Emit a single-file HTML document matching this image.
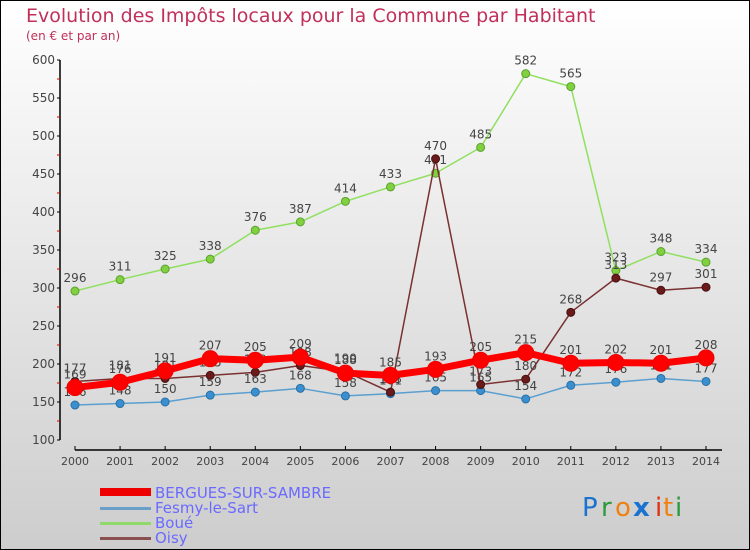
<!DOCTYPE html>
<html><head><meta charset="utf-8"><style>
body{margin:0}
svg{display:block;font-family:"DejaVu Sans","Liberation Sans",sans-serif}
</style></head><body>
<svg width="750" height="550" viewBox="0 0 750 550">
<defs><linearGradient id="bg" x1="0" y1="0" x2="0" y2="1"><stop offset="0" stop-color="#ffffff"/><stop offset="1" stop-color="#cdcdcd"/></linearGradient></defs>
<rect x="0.5" y="0.5" width="749" height="549" fill="url(#bg)" stroke="#000"/>
<text x="26" y="22" font-size="19" fill="#c0305a">Evolution des Impôts locaux pour la Commune par Habitant</text>
<text x="26" y="40" font-size="12" fill="#c0305a">(en € et par an)</text>
<g id="axes"></g><g id="series"></g>
<g>
<rect x="100" y="488" width="51" height="8" fill="#e00"/>
<text x="155" y="498" font-size="15" fill="#6a6aff">BERGUES-SUR-SAMBRE</text>
<rect x="100" y="507" width="51" height="3" fill="#6a9fc8"/>
<text x="155" y="513" font-size="15" fill="#6a6aff">Fesmy-le-Sart</text>
<rect x="100" y="522" width="51" height="3" fill="#8fd86a"/>
<text x="155" y="528" font-size="15" fill="#6a6aff">Boué</text>
<rect x="100" y="537" width="51" height="3" fill="#8a5050"/>
<text x="155" y="543" font-size="15" fill="#6a6aff">Oisy</text>
</g>
<g font-size="26" font-family="'DejaVu Sans',sans-serif">
<text x="582" y="516" fill="#1a73d0">P</text><text x="601" y="516" fill="#2a9a3a">r</text><text x="615" y="516" fill="#f08010">o</text><text x="633" y="516" fill="#1a73d0" font-weight="bold">x</text><text x="655" y="516" fill="#e03010">i</text><text x="663" y="516" fill="#f08010">t</text><text x="675" y="516" fill="#2a9a3a">i</text>
</g>
</svg>
<script>
const years=[2000,2001,2002,2003,2004,2005,2006,2007,2008,2009,2010,2011,2012,2013,2014];
const yTicks=[100,150,200,250,300,350,400,450,500,550,600];
const bergues=[169,176,191,207,205,209,188,185,193,205,215,201,202,201,208];
const fesmy=[146,148,150,159,163,168,158,161,165,165,154,172,176,181,177];
const boue=[296,311,325,338,376,387,414,433,451,485,582,565,323,348,334];
const oisy=[177,181,181,185,189,198,190,163,470,173,180,268,313,297,301];
const NS="http://www.w3.org/2000/svg";
const X=i=>75+i*(706-75)/(years.length-1);
const Y=v=>440-(v-100)*(380/500);
function mk(t,a,p){const e=document.createElementNS(NS,t);for(const k in a)e.setAttribute(k,a[k]);p.appendChild(e);return e;}
const ax=document.getElementById('axes');
mk('line',{x1:60,y1:60,x2:60,y2:440,stroke:'#000','stroke-width':1.5},ax);
yTicks.forEach((v,i)=>{
  mk('line',{x1:57,y1:Y(v),x2:60,y2:Y(v),stroke:'#000'},ax);
  if(i<yTicks.length-1)mk('line',{x1:57,y1:Y(v+25),x2:60,y2:Y(v+25),stroke:'#d00'},ax);
  const t=mk('text',{x:55,y:Y(v)+4,'font-size':12,fill:'#444','text-anchor':'end'},ax);t.textContent=v;
  
  
});
mk('line',{x1:75,y1:450,x2:722,y2:450,stroke:'#000','stroke-width':1.5},ax);
years.forEach((y,i)=>{
  mk('line',{x1:X(i),y1:446,x2:X(i),y2:450,stroke:'#000'},ax);
  const t=mk('text',{x:X(i),y:465,'font-size':11,fill:'#444','text-anchor':'middle'},ax);t.textContent=y;
  
  
});
const sg=document.getElementById('series');
function draw(vals,name,color,w,r,dot,dotStroke){
  const g=mk('g',{},sg);
  
  
  mk('polyline',{points:vals.map((v,i)=>X(i)+','+Y(v)).join(' '),fill:'none',stroke:color,'stroke-width':w,'stroke-linejoin':'round'},g);
  vals.forEach((v,i)=>{
    const c=mk('circle',{cx:X(i),cy:Y(v),r:r,fill:dot,stroke:dotStroke,'stroke-width':1},g);
    
    
    const t=mk('text',{x:X(i),y:Y(v)-9,'font-size':12,fill:'#444','text-anchor':'middle'},g);t.textContent=v;
    
    
  });
}
draw(fesmy,'fesmy','#5a9fd0',1.5,4,'#3a8fd0','#2a6fa0');
draw(boue,'boue','#90e060',1.5,4,'#80d040','#5aa030');
draw(oisy,'oisy','#7a3030',1.5,4,'#6a1a1a','#4a1010');
draw(bergues,'bergues','#f00',7,8,'#f00','#e00');
</script>
</body></html>
